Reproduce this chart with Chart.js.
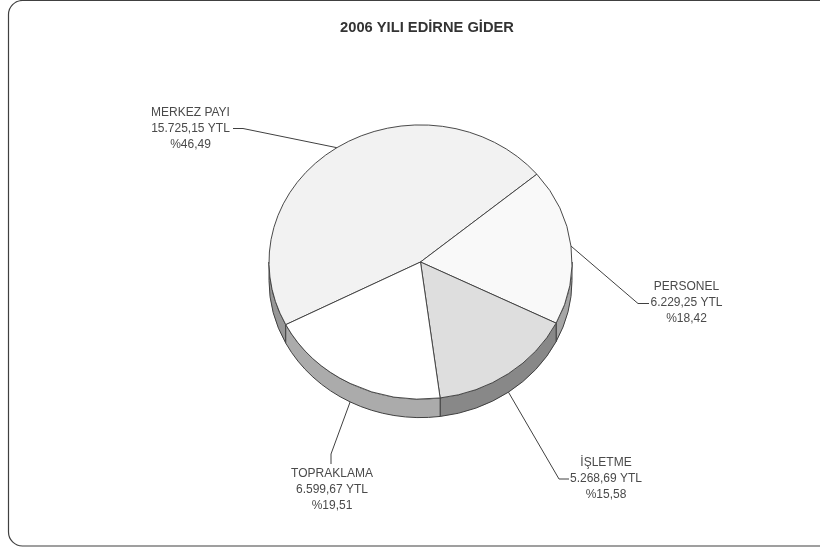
<!DOCTYPE html>
<html>
<head>
<meta charset="utf-8">
<title>2006 YILI EDİRNE GİDER</title>
<style>
  html, body { margin: 0; padding: 0; background: #fff; }
  canvas { display: block; }
</style>
<script src="https://cdn.jsdelivr.net/npm/chart.js@4"></script>
</head>
<body>
<canvas id="chart" width="820" height="547"></canvas>
<script>
const chartTitle = '2006 YILI EDİRNE GİDER';
const categories = ['MERKEZ PAYI', 'PERSONEL', 'İŞLETME', 'TOPRAKLAMA'];
const values = [15725.15, 6229.25, 5268.69, 6599.67];
const valueLabels = ['15.725,15 YTL', '6.229,25 YTL', '5.268,69 YTL', '6.599,67 YTL'];
const percentLabels = ['%46,49', '%18,42', '%15,58', '%19,51'];

const topColors = ['#f2f2f2', '#f9f9f9', '#dedede', '#ffffff'];
const sideColors = ['#979797', '#a6a6a6', '#888888', '#ababab'];
const EDGE = '#404040';
const TEXT = '#4a4a4a';

// Fake 3D: the pie is squashed vertically and gets a wall below it
const SQUASH = 0.905;
const DEPTH = 18.5;

// Label text centre + first line y, then the leader's bend points
const labelPos = [
  { x: 190.5, y: 113, bends: [[243, 128.5], [233, 128.5]] },
  { x: 686.5, y: 287, bends: [[638, 303.5], [649, 303.5]] },
  { x: 606, y: 463, bends: [[559, 479], [569, 479]] },
  { x: 332, y: 474, bends: [[331, 454], [331, 464]] },
];
const LINE_H = 16;

function squashAround(ctx, arc) {
  ctx.translate(arc.x, arc.y);
  ctx.scale(1, SQUASH);
  ctx.translate(-arc.x, -arc.y);
}

// Wall of one slice, only the part that faces the viewer (0..PI on the canvas)
function drawWall(ctx, arc, color) {
  const PI2 = Math.PI * 2;
  const ry = arc.outerRadius * SQUASH;
  for (const turn of [-PI2, 0, PI2]) {
    const a = Math.max(arc.startAngle + turn, 0);
    const b = Math.min(arc.endAngle + turn, Math.PI);
    if (b <= a) continue;
    ctx.beginPath();
    ctx.ellipse(arc.x, arc.y, arc.outerRadius, ry, 0, a, b);
    ctx.lineTo(arc.x + arc.outerRadius * Math.cos(b), arc.y + ry * Math.sin(b) + DEPTH);
    ctx.ellipse(arc.x, arc.y + DEPTH, arc.outerRadius, ry, 0, b, a, true);
    ctx.closePath();
    ctx.fillStyle = color;
    ctx.fill();
    ctx.strokeStyle = EDGE;
    ctx.lineWidth = 1;
    ctx.stroke();
  }
}

const pie3d = {
  id: 'pie3d',
  beforeDatasetsDraw(chart) {
    const ctx = chart.ctx;
    const arcs = chart.getDatasetMeta(0).data;
    arcs.forEach((arc, i) => drawWall(ctx, arc, sideColors[i]));
    ctx.save();
    squashAround(ctx, arcs[0]);
  },
  afterDatasetsDraw(chart) {
    chart.ctx.restore();
  },
};

const annotations = {
  id: 'annotations',
  beforeDraw(chart) {
    // rounded frame, right side runs off the picture
    const ctx = chart.ctx;
    ctx.save();
    ctx.beginPath();
    ctx.roundRect(8.5, 0.5, 830, 545.5, 14);
    ctx.strokeStyle = '#404040';
    ctx.lineWidth = 1.2;
    ctx.stroke();
    ctx.restore();
  },
  afterDraw(chart) {
    const ctx = chart.ctx;
    const arcs = chart.getDatasetMeta(0).data;
    ctx.save();
    ctx.textAlign = 'center';
    ctx.textBaseline = 'middle';
    ctx.fillStyle = '#333333';
    ctx.font = 'bold 14.7px "Liberation Sans", Arial, sans-serif';
    ctx.fillText(chartTitle, 427, 28);

    ctx.font = '12px "Liberation Sans", Arial, sans-serif';
    arcs.forEach((arc, i) => {
      const pos = labelPos[i];
      const mid = (arc.startAngle + arc.endAngle) / 2;
      const sx = arc.x + arc.outerRadius * Math.cos(mid);
      let sy = arc.y + arc.outerRadius * SQUASH * Math.sin(mid);
      if (Math.sin(mid) > 0) sy += DEPTH;

      ctx.beginPath();
      ctx.moveTo(sx, sy);
      pos.bends.forEach((p) => ctx.lineTo(p[0], p[1]));
      ctx.strokeStyle = EDGE;
      ctx.lineWidth = 1;
      ctx.stroke();

      ctx.fillStyle = TEXT;
      ctx.fillText(categories[i], pos.x, pos.y);
      ctx.fillText(valueLabels[i], pos.x, pos.y + LINE_H);
      ctx.fillText(percentLabels[i], pos.x, pos.y + LINE_H * 2);
    });
    ctx.restore();
  },
};

new Chart(document.getElementById('chart'), {
  type: 'pie',
  data: {
    labels: categories,
    datasets: [{
      data: values,
      backgroundColor: topColors,
      borderColor: EDGE,
      borderWidth: 1,
    }],
  },
  options: {
    responsive: false,
    animation: false,
    rotation: 242.8,
    layout: { padding: { left: 268.5, right: 247.5, top: 110, bottom: 133 } },
    plugins: {
      legend: { display: false },
      title: { display: false },
      tooltip: { enabled: false },
    },
  },
  plugins: [annotations, pie3d],
});
</script>
</body>
</html>
